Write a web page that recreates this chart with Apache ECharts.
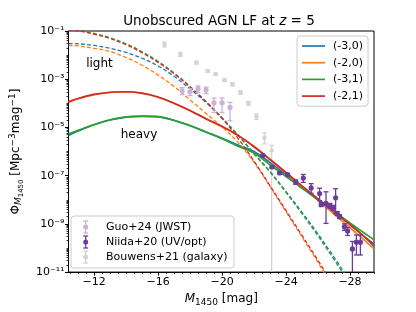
<!DOCTYPE html>
<html><head><meta charset="utf-8">
<script src="https://cdn.jsdelivr.net/npm/echarts@6/dist/echarts.min.js"></script>
<style>html,body{margin:0;padding:0;background:#fff}#c{width:416px;height:312px}</style>
</head><body><div id="c"></div>
<script>
// ---------- data (log10 of Phi) ----------
const M_GRID = [-10.4,-11,-12,-13,-14,-15,-16,-17,-18,-19,-20,-21,-22,-23,-24,-25,-26,-27,-28,-29,-29.5];
// heavy seeds (solid)
const BLUE_HEAVY   = [-5.33,-5.15,-4.89,-4.69,-4.57,-4.54,-4.56,-4.71,-4.93,-5.19,-5.45,-5.73,-6.00,-6.46,-6.96,-7.47,-7.98,-8.49,-9.00,-9.60,-9.93];
const ORANGE_HEAVY = [-3.95,-3.81,-3.64,-3.55,-3.53,-3.59,-3.75,-4.01,-4.31,-4.65,-4.97,-5.33,-5.79,-6.33,-6.89,-7.46,-8.02,-8.59,-9.16,-9.74,-10.04];
const GREEN_HEAVY  = [-5.27,-5.12,-4.88,-4.68,-4.56,-4.53,-4.55,-4.70,-4.92,-5.19,-5.47,-5.78,-6.06,-6.55,-7.04,-7.52,-8.00,-8.48,-8.96,-9.43,-9.66];
const RED_HEAVY    = [-3.94,-3.80,-3.63,-3.54,-3.52,-3.58,-3.74,-4.00,-4.30,-4.64,-4.96,-5.33,-5.80,-6.33,-6.87,-7.42,-7.96,-8.50,-9.04,-9.58,-9.84];
// light seeds (dashed)
const BLUE_LIGHT   = [-1.52,-1.53,-1.60,-1.72,-1.89,-2.13,-2.45,-2.88,-3.40,-3.97,-4.62,-5.32,-6.08,-6.83,-7.66,-8.52,-9.42,-10.38,-11.4,-12.5,-13.1];
const ORANGE_LIGHT = [-1.60,-1.62,-1.72,-1.85,-2.10,-2.42,-2.83,-3.30,-3.86,-4.42,-4.98,-5.62,-6.45,-7.45,-8.50,-9.55,-10.6,-11.7,-12.8,-13.9,-14.5];
const GREEN_LIGHT  = [-0.93,-0.97,-1.10,-1.28,-1.53,-1.86,-2.26,-2.74,-3.30,-3.93,-4.60,-5.32,-6.10,-6.85,-7.70,-8.58,-9.50,-10.48,-11.5,-12.6,-13.2];
const RED_LIGHT    = [-0.95,-0.99,-1.13,-1.31,-1.57,-1.90,-2.30,-2.77,-3.32,-3.93,-4.62,-5.45,-6.40,-7.42,-8.45,-9.48,-10.52,-11.6,-12.7,-13.8,-14.4];
const MODEL_NAMES = ['(-3,0)','(-2,0)','(-3,1)','(-2,1)'];

// observations
const GUO_M   = [-17.5,-18,-18.5,-19,-19.5,-20,-20.5];
const GUO_LOG = [-3.48,-3.52,-3.40,-3.45,-3.98,-3.98,-4.17];
const GUO_UP  = [0.13,0.13,0.12,0.12,0.20,0.20,0.21];
const GUO_DN  = [0.16,0.16,0.15,0.15,0.40,0.40,0.55];

const NIIDA_M   = [-22.55,-23.12,-23.6,-24.1,-24.6,-25.08,-25.57,-26.1,-26.2,-26.5,-26.75,-26.95,-27.1,-27.2,-27.35,-27.65,-27.85,-28.15,-28.4,-28.65];
const NIIDA_LOG = [-6.16,-6.64,-6.89,-6.96,-7.26,-7.10,-7.51,-7.74,-8.20,-8.15,-8.25,-8.33,-7.92,-8.57,-8.70,-9.12,-9.30,-10.04,-9.76,-9.76];
const NIIDA_UP  = [0.04,0.04,0.04,0.05,0.08,0.15,0.18,0.22,0.08,0.48,0.10,0.10,0.38,0.08,0.08,0.12,0.15,0.31,0.30,0.30];
const NIIDA_DN  = [0.04,0.04,0.04,0.05,0.10,0.18,0.22,0.30,0.08,0.83,0.10,0.10,0.65,0.08,0.08,0.15,0.18,3.0,0.53,0.53];

const BOUW_M   = [-16.4,-17.4,-18.4,-19.1,-19.6,-20.15,-20.65,-21.15,-21.65,-22.15,-22.65,-23.1];
const BOUW_LOG = [-1.56,-1.97,-2.31,-2.66,-2.79,-3.04,-3.21,-3.55,-4.00,-4.55,-5.43,-5.96];
const BOUW_UP  = [0.10,0.08,0.06,0.05,0.05,0.05,0.06,0.07,0.08,0.10,0.20,0.22];
const BOUW_DN  = [0.10,0.08,0.06,0.05,0.05,0.05,0.06,0.07,0.08,0.12,0.25,8.0];

const OBS_NAMES = ['Guo+24 (JWST)', 'Niida+20 (UV/opt)', 'Bouwens+21 (galaxy)'];
const X_MAJOR = [-28,-24,-20,-16,-12];
const Y_LABEL_EXP = [-11,-9,-7,-5,-3,-1];

// ---------- helpers ----------
const FONT = 'DejaVu Sans';
const C = {blue:'#1f77b4', orange:'#ff7f0e', green:'#2ca02c', red:'#d62728',
           guo:'#cab2d6', niida:'#6a3d9a', bouw:'#d3d3d3'};
const OBS_COLORS = [C.guo, C.niida, C.bouw];
const pairs = (xs, ls) => xs.map((x,i)=>[x, Math.pow(10, ls[i])]);
const errData = (xs, ls, up, dn) => xs.map((x,i)=>[x, Math.pow(10, ls[i]), Math.pow(10, ls[i]-dn[i]), Math.pow(10, ls[i]+up[i])]);
const SUP = {'0':'⁰','1':'¹','2':'²','3':'³','4':'⁴','5':'⁵','6':'⁶','7':'⁷','8':'⁸','9':'⁹','-':'⁻'};
const toSup = s => String(s).split('').map(ch=>SUP[ch]).join('');

const xMinor = [];
for (let v = -29.5; v <= -10.5; v += 0.5) if (X_MAJOR.indexOf(v) < 0) xMinor.push(v);
const yMajor = Y_LABEL_EXP.map(e=>Math.pow(10,e));
const yMinor = [];
for (let e = -11; e < -1; e++) for (let k = 1; k <= 9; k++) {
  if (k === 1 && Y_LABEL_EXP.indexOf(e) >= 0) continue;
  yMinor.push(k*Math.pow(10,e));
}

function errShapes(cx, cy, ya, yb, color, r, cap, lw) {
  const st = {stroke: color, lineWidth: lw};
  return [
    {type: 'line', shape: {x1: cx, y1: ya, x2: cx, y2: yb}, style: st},
    {type: 'line', shape: {x1: cx-cap, y1: ya, x2: cx+cap, y2: ya}, style: st},
    {type: 'line', shape: {x1: cx-cap, y1: yb, x2: cx+cap, y2: yb}, style: st},
    {type: 'circle', shape: {cx: cx, cy: cy, r: r}, style: {fill: color}}
  ];
}
function errRender(color, r, cap, lw) {
  return function (params, api) {
    const x = api.value(0), y = api.value(1), lo = api.value(2), hi = api.value(3);
    const c = api.coord([x, y]), a = api.coord([x, hi]), b = api.coord([x, lo]);
    return {type: 'group', children: errShapes(c[0], c[1], a[1], b[1], color, r, cap, lw)};
  };
}
function lineSeries(name, logs, color, dashed) {
  return {type: 'line', name: name, data: pairs(M_GRID, logs), symbol: 'none', smooth: 0.35,
    lineStyle: {color: color, width: dashed ? 1.3 : 1.7, type: dashed ? [4, 2.2] : 'solid'},
    itemStyle: {color: color}, z: 3, silent: true, animation: false, clip: true};
}
const LINE_ICON = 'path://M0,0 M23,12 M0,5.15H23V6.85H0Z';

// observational legend (drawn box, lower left)
const obsLegend = [{type: 'rect', shape: {x: 0, y: 0, width: 163, height: 52, r: 3},
  style: {fill: 'rgba(255,255,255,0.8)', stroke: '#cccccc', lineWidth: 1}}];
OBS_NAMES.forEach((n, i) => {
  const yc = 11 + 15 * i;
  errShapes(14.7, yc, yc - 6, yc + 6, OBS_COLORS[i], 2.5, 2.5, 1.3).forEach(s => obsLegend.push(s));
  obsLegend.push({type: 'text', x: 35, y: yc, style: {text: n, font: '11px "DejaVu Sans"', fill: '#000', align: 'left', verticalAlign: 'middle'}});
});

const chart = echarts.init(document.getElementById('c'), null, {renderer: 'canvas'});
const axisNameRich = {
  n: {fontSize: 12, fontFamily: FONT, color: '#000', lineHeight: 18},
  i: {fontSize: 12, fontFamily: FONT, fontStyle: 'italic', color: '#000', lineHeight: 18},
  si: {fontSize: 9, fontFamily: FONT, fontStyle: 'italic', color: '#000', verticalAlign: 'bottom', padding: [0,0,2,0]},
  sub: {fontSize: 9, fontFamily: FONT, color: '#000', verticalAlign: 'bottom', padding: [0,0,1,0]},
  ss: {fontSize: 7, fontFamily: FONT, color: '#000', verticalAlign: 'bottom'},
  sp: {fontSize: 9, fontFamily: FONT, color: '#000', verticalAlign: 'top', padding: [1,0,0,0]}
};
const option = {
  animation: false,
  backgroundColor: '#fff',
  grid: {left: 62, right: 42, top: 31, bottom: 38, show: true, borderColor: '#000', borderWidth: 1, containLabel: false},
  xAxis: [{
    type: 'value', inverse: true, min: -29.5, max: -10.4, position: 'bottom',
    axisLine: {show: true, onZero: false, lineStyle: {color: '#000', width: 1}},
    axisTick: {show: true, customValues: X_MAJOR, length: 3.5, lineStyle: {color: '#000', width: 1}},
    axisLabel: {customValues: X_MAJOR, formatter: v => (v < 0 ? '−' : '') + Math.abs(v), fontSize: 11, fontFamily: FONT, color: '#000', margin: 5},
    splitLine: {show: false},
    name: '{i|M}{sub|1450}{n| [mag]}', nameLocation: 'middle', nameGap: 17,
    nameTextStyle: {rich: axisNameRich, fontSize: 12, fontFamily: FONT, color: '#000'}
  }, {
    type: 'value', inverse: true, min: -29.5, max: -10.4, position: 'bottom',
    axisLine: {show: false}, axisLabel: {show: false}, splitLine: {show: false},
    axisTick: {show: true, customValues: xMinor, length: 2, lineStyle: {color: '#000', width: 0.8}}
  }],
  yAxis: [{
    type: 'log', logBase: 10, min: 1e-11, max: 1e-1, position: 'left',
    axisLine: {show: true, lineStyle: {color: '#000', width: 1}},
    axisTick: {show: true, customValues: yMajor, length: 3.5, lineStyle: {color: '#000', width: 1}},
    axisLabel: {customValues: yMajor, formatter: v => '10' + toSup('-' + Math.round(-Math.log10(v))), fontSize: 11, fontFamily: FONT, color: '#000', margin: 4},
    splitLine: {show: false},
    name: '{n|Φ}{si|M}{ss|1450}{n| [Mpc}{sp|−3}{n|mag}{sp|−1}{n|]}', nameLocation: 'middle', nameRotate: 90, nameGap: 40,
    nameTextStyle: {rich: axisNameRich, fontSize: 12, fontFamily: FONT, color: '#000'}
  }, {
    type: 'log', logBase: 10, min: 1e-11, max: 1e-1, position: 'left',
    axisLine: {show: false}, axisLabel: {show: false}, splitLine: {show: false},
    axisTick: {show: true, customValues: yMinor, length: 2, lineStyle: {color: '#000', width: 0.8}}
  }],
  legend: [{
    data: MODEL_NAMES.map(n => ({name: n, icon: LINE_ICON})), orient: 'vertical', left: 297, top: 36, padding: [4, 5, 4, 5],
    itemWidth: 23, itemHeight: 12, itemGap: 4.7, selectedMode: false, symbolKeepAspect: false,
    textStyle: {fontSize: 11, fontFamily: FONT, color: '#000', padding: [0, 0, 0, 3]},
    backgroundColor: 'rgba(255,255,255,0.8)', borderColor: '#cccccc', borderWidth: 1, borderRadius: 3
  }],
  graphic: [
    {type: 'text', x: 219, y: 21, style: {text: 'Unobscured AGN LF at {i|z} = 5',
      rich: {i: {fontStyle: 'italic', fontSize: 13.5, fontFamily: FONT, fill: '#000'}},
      font: '13.5px "DejaVu Sans"', fill: '#000', align: 'center', verticalAlign: 'middle'}},
    {type: 'text', x: 99.5, y: 63.5, style: {text: 'light', font: '12px "DejaVu Sans"', fill: '#000', align: 'center', verticalAlign: 'middle'}, z: 10},
    {type: 'text', x: 139, y: 134.5, style: {text: 'heavy', font: '12px "DejaVu Sans"', fill: '#000', align: 'center', verticalAlign: 'middle'}, z: 10},
    {type: 'group', x: 71, y: 216, z: 100, children: obsLegend}
  ],
  series: [
    {type: 'custom', name: OBS_NAMES[2], data: errData(BOUW_M, BOUW_LOG, BOUW_UP, BOUW_DN), renderItem: errRender(C.bouw, 2.2, 2.3, 1.3), encode: {x: 0, y: 1}, itemStyle: {color: C.bouw}, z: 1, clip: true, silent: true},
    lineSeries('(-3,0)', BLUE_HEAVY, C.blue, false),
    lineSeries('(-3,0) light', BLUE_LIGHT, C.blue, true),
    lineSeries('(-2,0)', ORANGE_HEAVY, C.orange, false),
    lineSeries('(-2,0) light', ORANGE_LIGHT, C.orange, true),
    lineSeries('(-3,1)', GREEN_HEAVY, C.green, false),
    lineSeries('(-3,1) light', GREEN_LIGHT, C.green, true),
    lineSeries('(-2,1)', RED_HEAVY, C.red, false),
    lineSeries('(-2,1) light', RED_LIGHT, C.red, true),
    {type: 'custom', name: OBS_NAMES[0], data: errData(GUO_M, GUO_LOG, GUO_UP, GUO_DN), renderItem: errRender(C.guo, 2.6, 2.5, 1.3), encode: {x: 0, y: 1}, itemStyle: {color: C.guo}, z: 4, clip: true, silent: true},
    {type: 'custom', name: OBS_NAMES[1], data: errData(NIIDA_M, NIIDA_LOG, NIIDA_UP, NIIDA_DN), renderItem: errRender(C.niida, 2.6, 2.5, 1.3), encode: {x: 0, y: 1}, itemStyle: {color: C.niida}, z: 4, clip: true, silent: true}
  ]
};
chart.setOption(option);
</script></body></html>
